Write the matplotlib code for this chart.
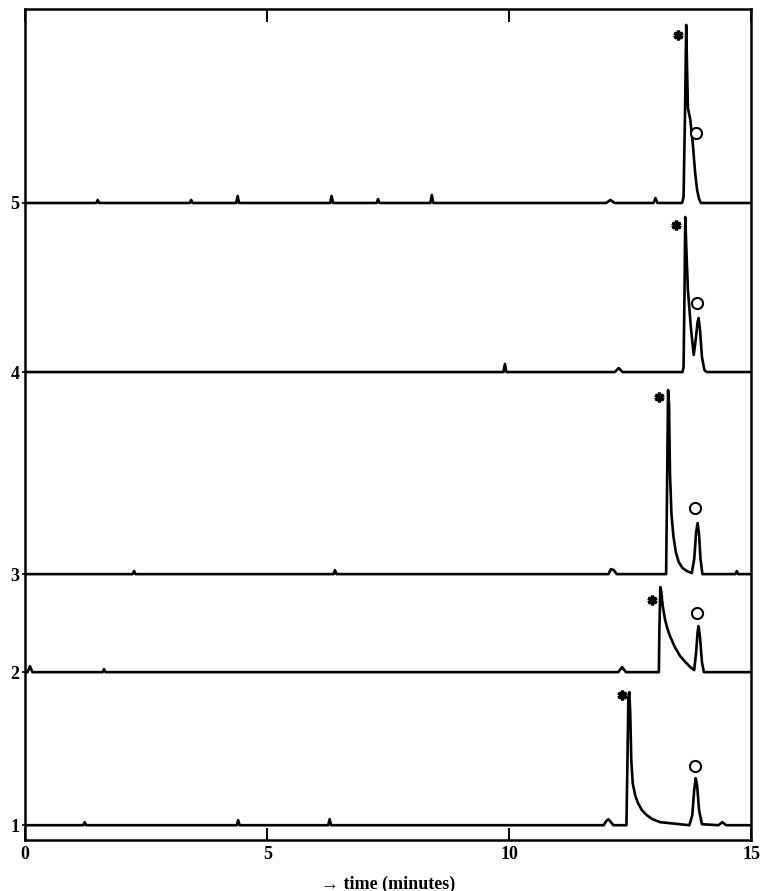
import numpy as np
import matplotlib.pyplot as plt

plt.rcParams['font.family'] = ['Liberation Serif', 'DejaVu Serif']

# run numbers and baseline offsets (stacked chromatograms)
runs = ['1', '2', '3', '4', '5']
offsets = [15, 168, 266, 468, 637]

# time (minutes) / signal above baseline
t1 = [0, 1.20, 1.23, 1.26, 4.37, 4.40, 4.43, 6.26, 6.29, 6.32, 11.95, 12.00, 12.05, 12.10, 12.15,
      12.42, 12.44, 12.46, 12.48, 12.50, 12.52, 12.55, 12.60, 12.66, 12.74, 12.84, 12.96, 13.12,
      13.72, 13.78, 13.82, 13.85, 13.88, 13.92, 13.98, 14.32, 14.40, 14.48, 15]
s1 = [0, 0, 3, 0, 0, 5, 0, 0, 6, 0, 0, 4, 6, 3, 0,
      0, 60, 128, 133, 110, 65, 42, 30, 22, 15, 10, 6, 3,
      0, 10, 35, 47, 40, 15, 1, 0, 3, 0, 0]

t2 = [0, 0.05, 0.10, 0.15, 1.60, 1.63, 1.66, 12.25, 12.33, 12.41, 13.09, 13.10, 13.12, 13.14, 13.17,
      13.22, 13.27, 13.32, 13.42, 13.53, 13.64, 13.74, 13.82, 13.86, 13.89, 13.91, 13.94, 13.98,
      14.02, 15]
s2 = [0, 0, 6, 0, 0, 3, 0, 0, 5, 0, 0, 40, 85, 80, 66,
      52, 43, 36, 25, 16, 10, 5, 2, 20, 40, 46, 35, 10,
      0, 0]

t3 = [0, 2.22, 2.25, 2.28, 6.37, 6.40, 6.43, 12.05, 12.10, 12.16, 12.22, 13.24, 13.26, 13.28, 13.30,
      13.32, 13.35, 13.39, 13.44, 13.50, 13.58, 13.67, 13.77, 13.82, 13.86, 13.89, 13.92, 13.95,
      13.99, 14.67, 14.70, 14.73, 15]
s3 = [0, 0, 3, 0, 0, 4, 0, 0, 5, 4, 0, 0, 90, 184, 170,
      100, 60, 38, 22, 12, 6, 3, 1, 15, 42, 51, 40, 15,
      0, 0, 3, 0, 0]

t4 = [0, 9.88, 9.91, 9.94, 12.18, 12.26, 12.34, 13.58, 13.60, 13.62, 13.635, 13.66, 13.69, 13.75,
      13.81, 13.85, 13.89, 13.91, 13.94, 13.98, 14.03, 14.08, 15]
s4 = [0, 0, 8, 0, 0, 4, 0, 0, 5, 80, 155, 120, 82, 45,
      17, 32, 50, 54, 42, 15, 2, 0, 0]

t5 = [0, 1.47, 1.50, 1.53, 3.40, 3.43, 3.46, 4.36, 4.39, 4.42, 6.30, 6.33, 6.36, 7.26, 7.29, 7.32,
      8.37, 8.40, 8.43, 12.00, 12.09, 12.18, 12.98, 13.02, 13.06, 13.57, 13.60, 13.63, 13.655,
      13.67, 13.69, 13.74, 13.79, 13.84, 13.88, 13.92, 13.96, 15]
s5 = [0, 0, 3, 0, 0, 3, 0, 0, 7, 0, 0, 7, 0, 0, 4, 0,
      0, 8, 0, 0, 3, 0, 0, 5, 0, 0, 6, 90, 178,
      140, 95, 83, 60, 30, 13, 4, 0, 0]

times = [t1, t2, t3, t4, t5]
signals = [s1, s2, s3, s4, s5]

# peak labels: asterisk (main peak) and open circle (second peak)
star_t = [12.33, 12.95, 13.10, 13.45, 13.49]
star_h = [130, 72, 177, 147, 168]
circ_t = [13.83, 13.88, 13.84, 13.88, 13.86]
circ_h = [59, 59, 66, 69, 70]

fig, ax = plt.subplots(figsize=(7.62, 8.91), dpi=100)
fig.subplots_adjust(left=0.033, right=0.986, top=0.990, bottom=0.057)

for t, s, off in zip(times, signals, offsets):
    ax.plot(t, np.array(s) + off, color='black', lw=1.9, solid_joinstyle='round')

ax.plot(star_t, np.array(star_h) + np.array(offsets), ls='none', marker=(6, 2, 0),
        ms=7, mew=2.4, color='black')
ax.plot(circ_t, np.array(circ_h) + np.array(offsets), ls='none', marker='o',
        ms=8, mew=1.5, mfc='white', mec='black')

ax.set_xlim(0, 15)
ax.set_ylim(0, 831)
ax.set_xticks([0, 5, 10, 15])
ax.set_xticklabels(['0', '5', '10', '15'], fontsize=13, fontweight='bold')
ax.tick_params(axis='x', direction='in', length=9, width=1.4, top=True, pad=4)
ax.set_yticks(offsets)
ax.set_yticklabels(runs, fontsize=13, fontweight='bold')
ax.tick_params(axis='y', direction='inout', length=4, width=1.2, pad=2)
for sp in ax.spines.values():
    sp.set_linewidth(1.8)

ax.set_xlabel('\u2192 time (minutes)', fontsize=13, fontweight='bold', labelpad=9)

plt.savefig('out.png', dpi=100)
